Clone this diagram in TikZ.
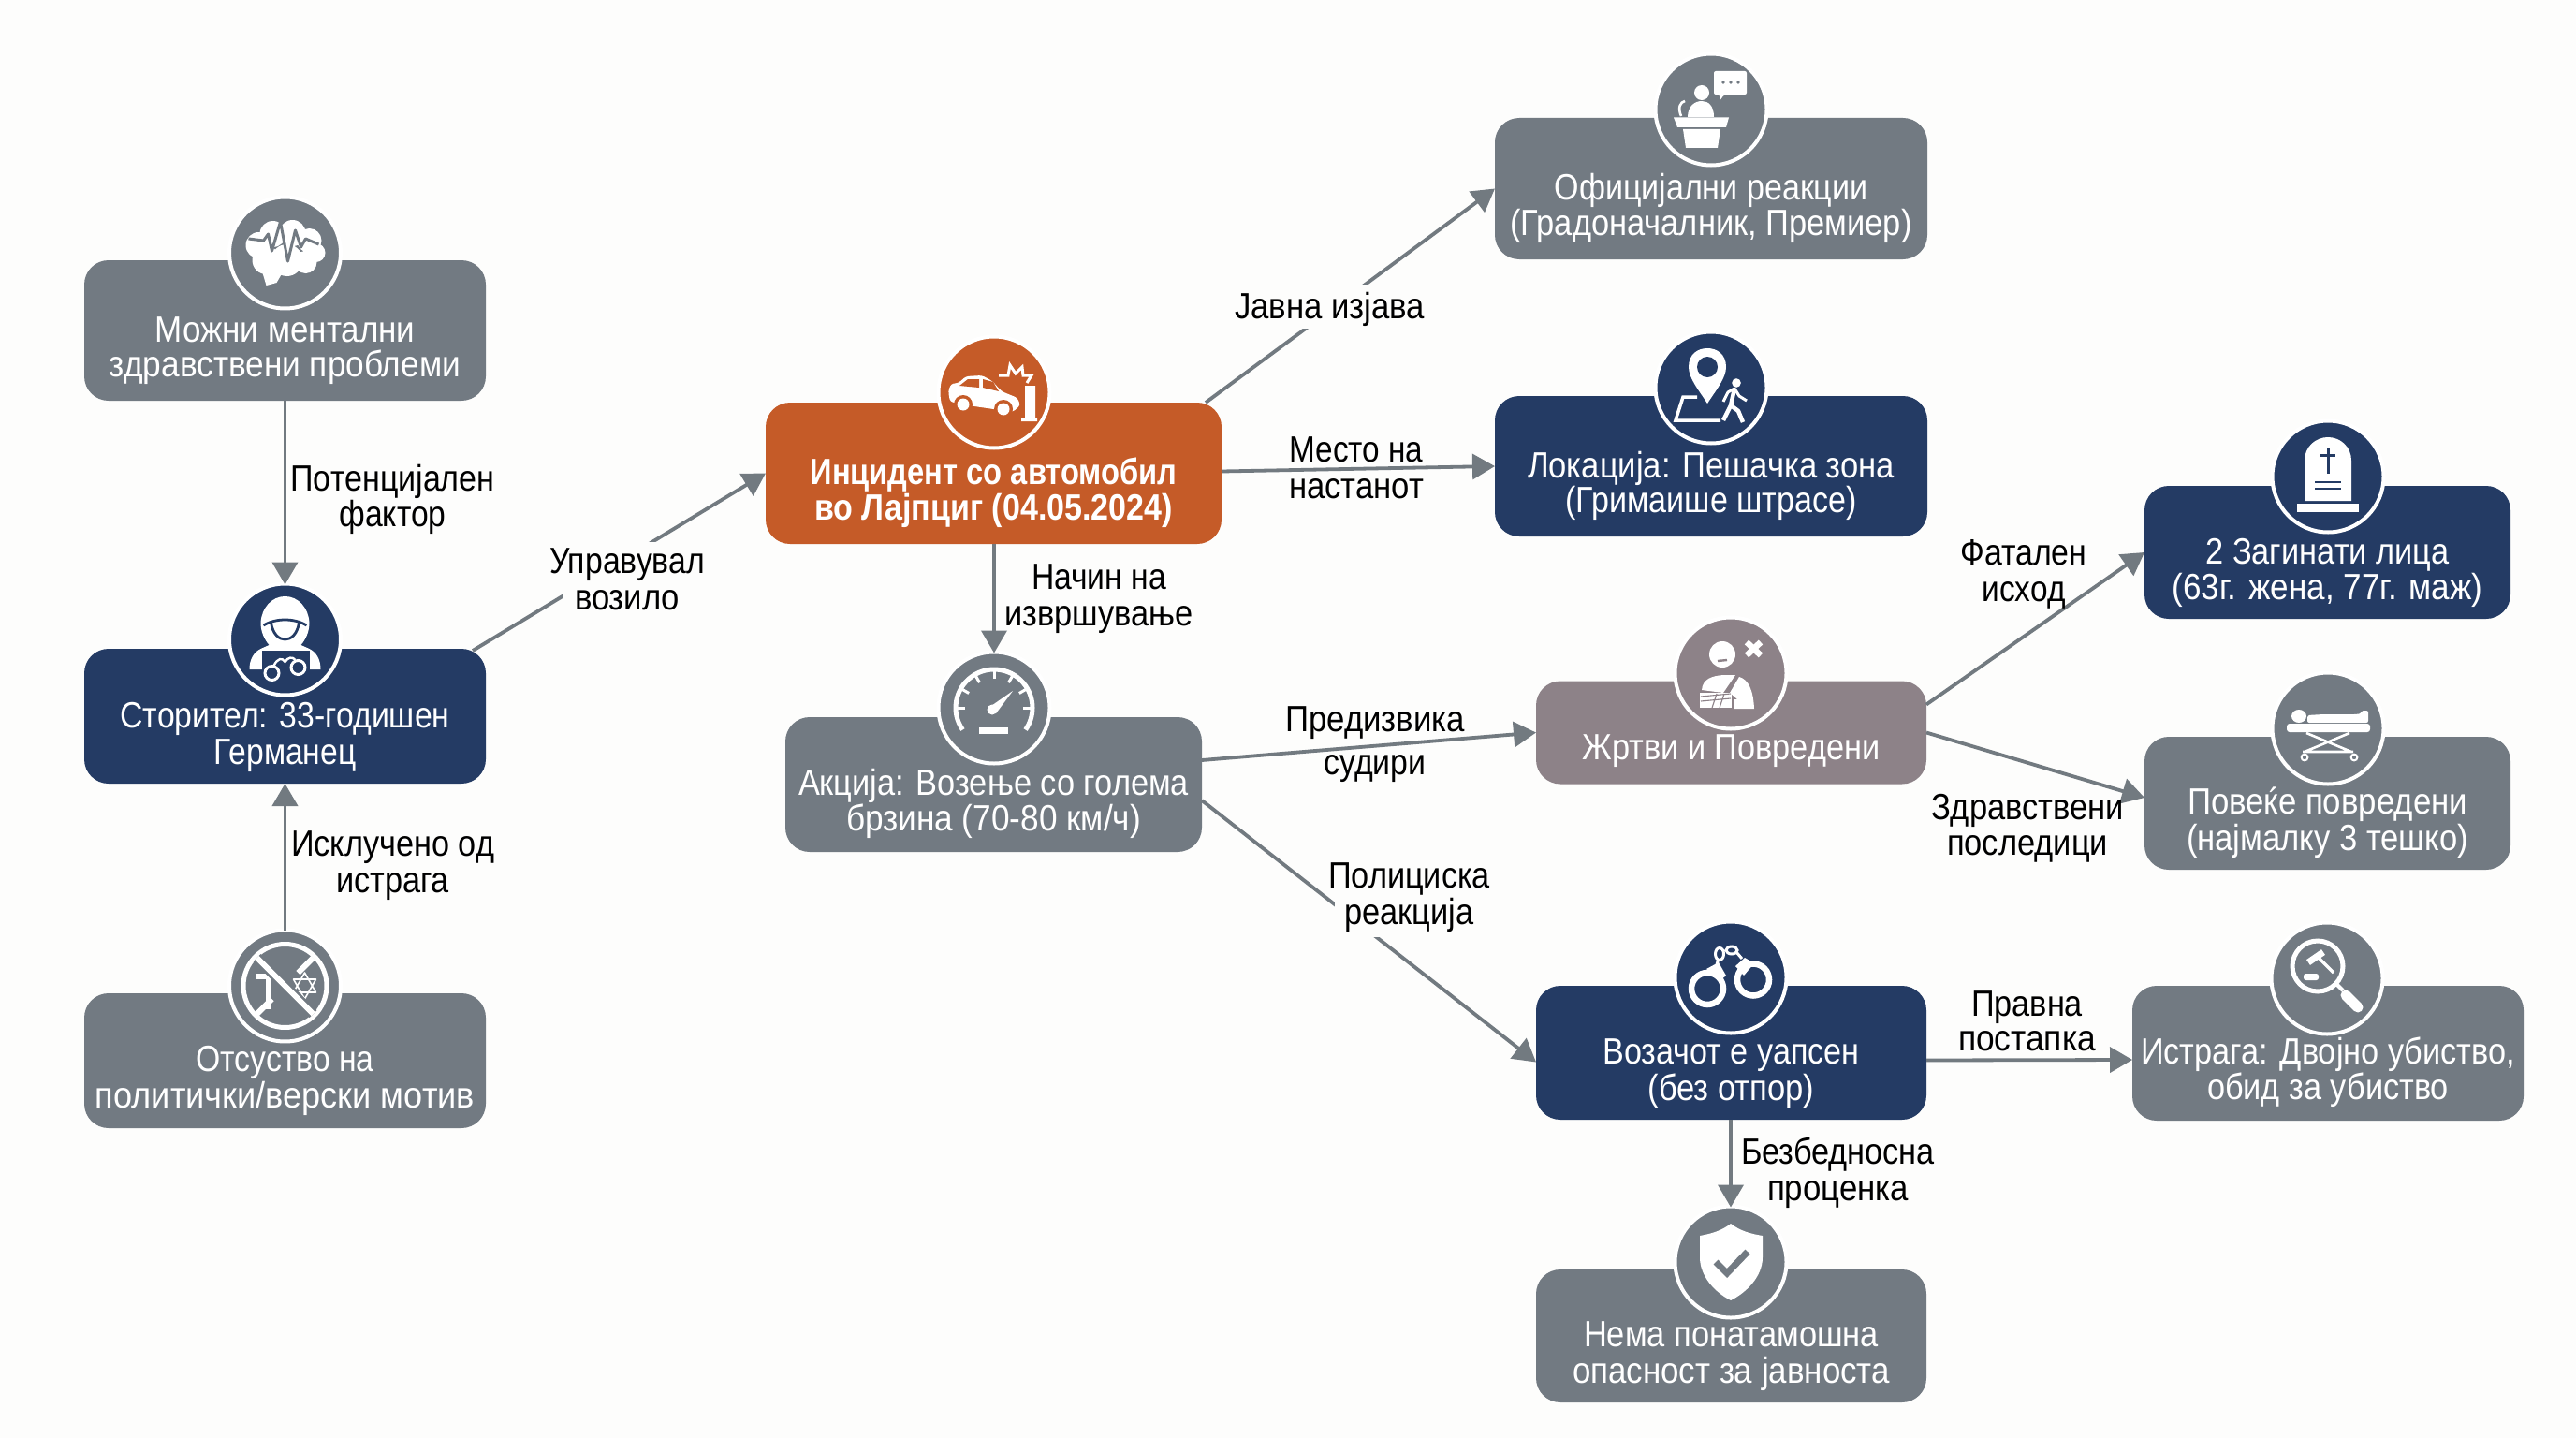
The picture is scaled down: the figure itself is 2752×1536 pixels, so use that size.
\documentclass[tikz,border=0pt]{standalone}
\usepackage{fontspec}
\usepackage{graphicx}
\setmainfont{Liberation Sans}
\usetikzlibrary{arrows.meta,calc}
\definecolor{bgc}{HTML}{FDFDFC}
\definecolor{gry}{HTML}{727A82}
\definecolor{nav}{HTML}{243B64}
\definecolor{org}{HTML}{C55B28}
\definecolor{mau}{HTML}{8D8288}
\definecolor{lnk}{HTML}{727A80}
% one text line, dy px below the node centre, squeezed to a width
\newcommand{\tl}[3]{\makebox[0pt]{\smash{\raisebox{#1}{\resizebox{#2}{\height}{#3}}}}}
\newcommand{\icBrain}[1]{%
 \fill[white] (-28,-8) circle (14) (-13,-20) circle (14) (8,-21) circle (14) (26,-13) circle (13) (33,0) circle (10) (22,10) circle (12) (2,8) circle (17) (-20,8) circle (15);
 \fill[white] (-26,15) -- (-20,35) -- (-9,32) -- (-2,20) -- cycle;
 \draw[#1,line width=3,line join=round] (-39,-15) -- (-23,-13) -- (-18,-20) -- (-14,-2) -- (-5,-33) -- (3,9) -- (11,-24) -- (17,-6) -- (22,-15) -- (36,-9);
}
\newcommand{\icHood}[1]{%
 \fill[white] (0,-46) .. controls (-14,-46) and (-25,-34) .. (-26,-18) .. controls (-26,-8) and (-22,0) .. (-17,6) -- (-26,10) .. controls (-34,14) and (-38,22) .. (-38,32) -- (38,32) .. controls (38,22) and (34,14) .. (26,10) -- (17,6) .. controls (22,0) and (26,-8) .. (26,-18) .. controls (25,-34) and (14,-46) .. (0,-46) -- cycle;
 \draw[#1,line width=2.8] (-23,-15) .. controls (-10,-23) and (10,-23) .. (23,-15);
 \draw[#1,line width=2.8] (-15,-18) .. controls (-13,-5) and (-6,0) .. (0,0) .. controls (6,0) and (13,-5) .. (15,-18);
 \fill[#1] (-25,12) rectangle (26,50);
 \draw[white,line width=3] (-14,36) circle (7.5) (14,30) circle (7.5);
 \draw[white,line width=2.4] (-12,28) .. controls (-8,20) and (-3,19) .. (0,24) .. controls (3,19) and (8,18) .. (11,22);
}
\newcommand{\icNo}[1]{%
 \draw[white,line width=5] (0,0) circle (44.5);
 \fill[white] (-31,-13) rectangle (-13,-7);
 \fill[white] (-21,-20) rectangle (-15,25);
 \draw[white,line width=1.6,line join=round] (21,-14) -- (33,7) -- (9,7) -- cycle (21,14) -- (33,-7) -- (9,-7) -- cycle;
 \draw[#1,line width=11] (-30,-30) -- (30,30);
 \draw[white,line width=6] (-30,-30) -- (30,30) (-30,30) -- (-14,14) (14,-14) -- (30,-30);
}
\newcommand{\icCar}[1]{%
 \fill[white,rounded corners=3] (-49,-1) -- (-46,-9) -- (-38,-10) -- (-30,-17) -- (-13,-18) -- (-2,-12) -- (8,-1) -- (25,6) -- (28,14) -- (20,21) -- (-28,14) -- (-47,10) -- cycle;
 \fill[#1] (-12,-14) -- (-1,-11) -- (5,-1) -- (-12,-5) -- cycle (-16,-14) -- (-28,-14) -- (-37,-7) -- (-16,-5) -- cycle;
 \fill[#1] (-33,13) circle (10) (10,18) circle (10);
 \fill[white] (-33,13) circle (6.5) (10,18) circle (6.5);
 \fill[white] (33,-7) rectangle (44,28) (29,27) rectangle (46,31);
 \draw[white,line width=3,line join=miter] (5,-18) -- (15,-18) -- (17,-29) -- (23,-20) -- (30,-27) -- (31,-18) -- (40,-18) -- (35,-10);
}
\newcommand{\icGauge}[1]{%
 \draw[white,line width=5] (145:41) arc[start angle=145,end angle=395,radius=41];
 \foreach \a in {180,210,240,270,300,330,360} {\draw[white,line width=3] (\a:41) -- (\a:31);}
 \fill[white] (-2,2) circle (5.5);
 \fill[white] (-6,0) -- (20,-18) -- (2,6) -- cycle;
 \fill[white] (-16,21) rectangle (15,28);
}
\newcommand{\icPodium}[1]{%
 \fill[white] (-10,-18) circle (8);
 \fill[white] (-25,8) .. controls (-25,-4) and (-17,-9) .. (-10,-9) .. controls (-3,-9) and (3,-4) .. (3,8) -- cycle;
 \draw[white,line width=2.6] (-32,7) .. controls (-36,-2) and (-33,-8) .. (-28,-9);
 \fill[white] (-40,8.5) -- (19,8.5) -- (16,19) -- (-36,19) -- cycle;
 \fill[white] (-30,21) -- (10,21) -- (7,41) -- (-27,41) -- cycle;
 \fill[white,rounded corners=2] (3,-41) -- (38,-41) -- (38,-16) -- (14,-16) -- (9,-9) -- (9,-16) -- (3,-16) -- cycle;
 \fill[#1] (13,-29) circle (1.8) (21,-29) circle (1.8) (29,-29) circle (1.8);
}
\newcommand{\icPin}[1]{%
 \fill[white] (-24,-22) .. controls (-24,-36) and (-14,-42) .. (-4,-42) .. controls (6,-42) and (16,-36) .. (16,-22) .. controls (16,-10) and (5,3) .. (-4,17) .. controls (-13,3) and (-24,-10) .. (-24,-22) -- cycle;
 \fill[#1] (-4,-22) circle (11);
 \draw[white,line width=3.5,line join=miter] (-15,10) -- (-30,10) -- (-38,35) -- (10,35);
 \fill[white] (27,-5) circle (4.8);
 \draw[white,line width=4.5,line join=round] (25,1) -- (21,19) -- (13,35);
 \draw[white,line width=4.5,line join=round] (21,19) -- (29,25) -- (34,37);
 \draw[white,line width=3,line join=round] (13,15) -- (18,5) -- (25,1) -- (30,9) -- (38,14);
}
\newcommand{\icHurt}[1]{%
 \fill[white] (-9,-20) circle (14);
 \draw[#1,line width=2.4] (-14,-13) -- (-4,-14);
 \draw[white,line width=6.5] (17,-33) -- (32,-19) (32,-33) -- (17,-19);
 \fill[white] (-31,18) .. controls (-30,6) and (-20,3) .. (-8,2) -- (5,2) -- (-8,21) -- cycle;
 \fill[white] (9,4) .. controls (19,7) and (24,18) .. (25,38) -- (3,38) -- (3,28) -- (7,28) -- (-1,21) -- cycle;
 \fill[white] (-33,21) rectangle (1,37);
 \draw[#1,line width=1.1] (-32,25) -- (0,22) (-32,30) -- (0,27) (-20,37) -- (-15,22) (-12,37) -- (-7,22);
}
\newcommand{\icCuffs}[1]{%
 \draw[white,line width=6.5] (-25,12) circle (17) (24,2.5) circle (17);
 \fill[white] (-26,-9) -- (-13,-16) -- (-5,-2) -- (-12,4) -- cycle;
 \fill[white] (5,-12) -- (15,-21) -- (25,-15) -- (14,-2) -- cycle;
 \draw[white,line width=3] (-12,-25) ellipse (4.5 and 6.5) (1,-29) ellipse (6 and 4);
 \draw[white,line width=3] (-15,-14) -- (-13,-20) (6,-27) -- (12,-20);
}
\newcommand{\icShield}[1]{%
 \fill[white] (0,-41) .. controls (-10,-33) and (-22,-30) .. (-33,-28) -- (-33,-5) .. controls (-33,16) and (-16,33) .. (0,41) .. controls (16,33) and (34,16) .. (34,-5) -- (34,-28) .. controls (22,-30) and (10,-33) .. (0,-41) -- cycle;
 \draw[#1,line width=7,line join=miter] (-16,0) -- (-4,12) -- (18,-11);
}
\newcommand{\icGrave}[1]{%
 \fill[white] (-25,26) -- (-25,-17) .. controls (-25,-32) and (-13,-42) .. (0,-42) .. controls (13,-42) and (25,-32) .. (25,-17) -- (25,26) -- cycle;
 \fill[white] (-33,29) rectangle (33,38);
 \draw[#1,line width=3] (0,-30) -- (0,-3) (-8,-23) -- (8,-23);
 \draw[#1,line width=2.4] (-14,6) -- (14,6) (-14,13) -- (14,13);
}
\newcommand{\icBed}[1]{%
 \fill[white] (-31,-13) ellipse (8 and 7);
 \fill[white,rounded corners=2] (-22,-6) -- (-22,-14) -- (-5,-15) -- (30,-15) -- (36,-16) -- (36,-19) -- (43,-19) -- (43,-6) -- cycle;
 \fill[white,rounded corners=3] (-44,-5) rectangle (45,4);
 \draw[white,line width=2.6] (-25,25) -- (23,5) (25,25) -- (-23,5) (-27,25) -- (27,25);
 \draw[white,line width=2] (-25,31) circle (3.4) (28,31) circle (3.4);
}
\newcommand{\icLens}[1]{%
 \draw[white,line width=5] (-10,-13) circle (27);
 \draw[white,line width=4] (10,6) -- (17,13);
 \draw[white,line width=11,line cap=round] (20,18) -- (33,31);
 \draw[white,line width=7] (-20,-17) -- (-4,-28);
 \draw[white,line width=3.5] (-9,-22) -- (7,-6);
 \fill[white,rounded corners=2.5] (-25,-5) rectangle (-9,2);
}
\begin{document}
\begin{tikzpicture}[x=1pt,y=-1pt,
  bx/.style={rectangle,rounded corners=26pt,inner sep=0pt,outer sep=0pt,draw=none,text=white,font=\fontsize{39}{40}\selectfont},
  icn/.style={circle,draw=white,line width=4pt,minimum size=119pt,inner sep=0pt,outer sep=0pt},
  lab/.style={inner sep=0pt,outer sep=0pt,text=black,font=\fontsize{39}{40}\selectfont},
  arr/.style={draw=lnk,line width=3.8pt,-{Triangle[length=24pt,width=27pt]}}]
\useasboundingbox (0,0) rectangle (2752,1536);
\fill[bgc] (0,0) rectangle (2752,1536);

% boxes
\node[bx,fill=gry,minimum width=429pt,minimum height=150pt] (ment) at (304.5,353) {\tl{-12pt}{278pt}{Можни ментални}\tl{-49.5pt}{375pt}{здравствени проблеми}};
\node[bx,fill=nav,minimum width=429pt,minimum height=144pt] (stor) at (304.5,765) {\tl{-12pt}{352pt}{Сторител: 33-годишен}\tl{-51pt}{152pt}{Германец}};
\node[bx,fill=gry,minimum width=429pt,minimum height=144pt] (otsu) at (304.5,1133) {\tl{-11pt}{190pt}{Отсуство на}\tl{-50pt}{405pt}{политички/верски мотив}};
\node[bx,fill=org,minimum width=487pt,minimum height=151pt,font=\fontsize{39}{40}\selectfont\bfseries] (inci) at (1061.5,505.5) {\tl{-11.5pt}{392pt}{Инцидент со автомобил}\tl{-49.5pt}{383pt}{во Лајпциг (04.05.2024)}};
\node[bx,fill=gry,minimum width=445pt,minimum height=144pt] (akci) at (1061.5,838) {\tl{-11pt}{417pt}{Акција: Возење со голема}\tl{-49pt}{315pt}{брзина (70-80 км/ч)}};
\node[bx,fill=gry,minimum width=462pt,minimum height=151pt] (ofic) at (1828,201.5) {\tl{-11.5pt}{335pt}{Официјални реакции}\tl{-49.5pt}{429pt}{(Градоначалник, Премиер)}};
\node[bx,fill=nav,minimum width=462pt,minimum height=150pt] (loka) at (1828,498) {\tl{-12pt}{392pt}{Локација: Пешачка зона}\tl{-49pt}{311pt}{(Гримаише штрасе)}};
\node[bx,fill=mau,minimum width=417pt,minimum height=110pt] (zrtv) at (1849.5,782.5) {\tl{-28.5pt}{318pt}{Жртви и Повредени}};
\node[bx,fill=nav,minimum width=417pt,minimum height=143pt] (voza) at (1849.5,1124.5) {\tl{-11.5pt}{274pt}{Возачот е уапсен}\tl{-50.5pt}{178pt}{(без отпор)}};
\node[bx,fill=gry,minimum width=417pt,minimum height=142pt] (nema) at (1849.5,1427) {\tl{-11pt}{315pt}{Нема понатамошна}\tl{-50pt}{339pt}{опасност за јавноста}};
\node[bx,fill=nav,minimum width=391pt,minimum height=142pt] (zagi) at (2486.5,590) {\tl{-12pt}{260pt}{2 Загинати лица}\tl{-50pt}{332pt}{(63г. жена, 77г. маж)}};
\node[bx,fill=gry,minimum width=391pt,minimum height=142pt] (pove) at (2486.5,858) {\tl{-11pt}{299pt}{Повеќе повредени}\tl{-50pt}{301pt}{(најмалку 3 тешко)}};
\node[bx,fill=gry,minimum width=418pt,minimum height=144pt] (istr) at (2487,1125) {\tl{-11pt}{400pt}{Истрага: Двојно убиство,}\tl{-49pt}{258pt}{обид за убиство}};

% icon discs
\node[icn,fill=gry] (mentc) at (304.5,270) {};
\node[icn,fill=nav] (storc) at (304.5,683) {};
\node[icn,fill=gry] (otsuc) at (304.5,1053) {};
\node[icn,fill=org] (incic) at (1062,419) {};
\node[icn,fill=gry] (akcic) at (1062,756) {};
\node[icn,fill=gry] (oficc) at (1828,117) {};
\node[icn,fill=nav] (lokac) at (1828,414) {};
\node[icn,fill=mau] (zrtvc) at (1849,719) {};
\node[icn,fill=nav] (vozac) at (1849,1044) {};
\node[icn,fill=gry] (nemac) at (1849,1348) {};
\node[icn,fill=nav] (zagic) at (2487,509) {};
\node[icn,fill=gry] (povec) at (2487,778) {};
\node[icn,fill=gry] (istrc) at (2486,1045) {};

% icons
\begin{scope}[shift={(mentc.center)}]\icBrain{gry}\end{scope}
\begin{scope}[shift={(storc.center)}]\icHood{nav}\end{scope}
\begin{scope}[shift={(otsuc.center)}]\icNo{gry}\end{scope}
\begin{scope}[shift={(incic.center)}]\icCar{org}\end{scope}
\begin{scope}[shift={(akcic.center)}]\icGauge{gry}\end{scope}
\begin{scope}[shift={(oficc.center)}]\icPodium{gry}\end{scope}
\begin{scope}[shift={(lokac.center)}]\icPin{nav}\end{scope}
\begin{scope}[shift={(zrtvc.center)}]\icHurt{mau}\end{scope}
\begin{scope}[shift={(vozac.center)}]\icCuffs{nav}\end{scope}
\begin{scope}[shift={(nemac.center)}]\icShield{gry}\end{scope}
\begin{scope}[shift={(zagic.center)}]\icGrave{nav}\end{scope}
\begin{scope}[shift={(povec.center)}]\icBed{gry}\end{scope}
\begin{scope}[shift={(istrc.center)}]\icLens{gry}\end{scope}

% connectors
\draw[arr] (ment.south) -- ([yshift=-1pt]storc.north);
\draw[arr] (otsuc.north) -- (stor.south);
\draw[arr] ($(stor.north east)+(-14,2)$) -- (inci.west);
\draw[arr] (inci.south -| incic.south) -- ([yshift=-1pt]akcic.north);
\draw[arr] ($(inci.north east)+(-17,0)$) -- (ofic.west);
\draw[arr] ($(inci.east)+(0,-2)$) -- (loka.west);
\draw[arr] ($(akci.east)+(0,-26)$) -- (zrtv.west);
\draw[arr] ($(akci.east)+(0,17)$) -- ($(voza.west)+(0,10)$);
\draw[arr] ($(zrtv.east)+(0,-30)$) -- (zagi.west);
\draw[arr] ($(zrtv.east)+(0,0)$) -- ($(pove.west)+(0,-6)$);
\draw[arr] ($(voza.east)+(0,8)$) -- ($(istr.west)+(0,7)$);
\draw[arr] (voza.south -| vozac.south) -- ([yshift=-1pt]nemac.north);

% connector labels
\node[lab] (lpote) at (419.5,524) {\tl{0pt}{218pt}{Потенцијален}\tl{-38pt}{114pt}{фактор}};
\node[lab] (liskl) at (419.5,914) {\tl{0pt}{217pt}{Исклучено од}\tl{-39pt}{121pt}{истрага}};
\node[lab,fill=bgc,minimum width=138pt,minimum height=81pt] (lupra) at (670,619.5) {\tl{7.5pt}{166pt}{Управувал}\tl{-31.5pt}{112pt}{возило}};
\node[lab] (lnaci) at (1174,629) {\tl{0pt}{144pt}{Начин на}\tl{-39pt}{201pt}{извршување}};
\node[lab,fill=bgc,minimum width=203pt,minimum height=47pt] (ljavn) at (1420.5,327.5) {\tl{-12.5pt}{203pt}{Јавна изјава}};
\node[lab] (lmest) at (1449,493) {\tl{0pt}{143pt}{Место на}\tl{-39pt}{144pt}{настанот}};
\node[lab] (lpred) at (1469,781) {\tl{0pt}{192pt}{Предизвика}\tl{-46pt}{109pt}{судири}};
\node[lab,fill=bgc,minimum width=159pt,minimum height=71pt] (lpoli) at (1505.5,965.5) {\tl{17.5pt}{173pt}{Полициска}\tl{-21.5pt}{138pt}{реакција}};
\node[lab] (lfata) at (2162,603) {\tl{0pt}{135pt}{Фатален}\tl{-39pt}{89pt}{исход}};
\node[lab] (lzdra) at (2166,875) {\tl{0pt}{206pt}{Здравствени}\tl{-38pt}{172pt}{последици}};
\node[lab] (lprav) at (2165.5,1085) {\tl{0pt}{119pt}{Правна}\tl{-37pt}{147pt}{постапка}};
\node[lab] (lbezb) at (1963.5,1243) {\tl{0pt}{207pt}{Безбедносна}\tl{-39pt}{151pt}{проценка}};
\end{tikzpicture}
\end{document}
